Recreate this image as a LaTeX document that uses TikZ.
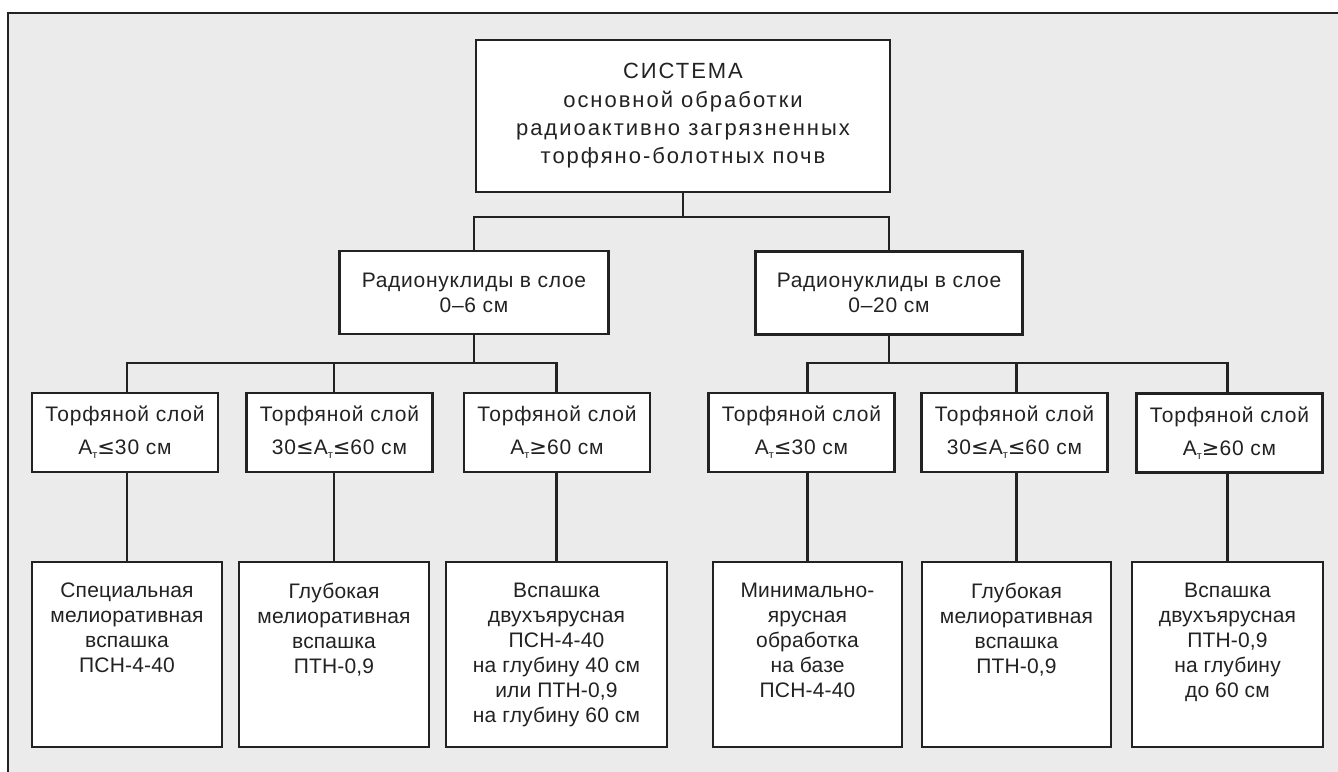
\documentclass[tikz,border=0pt]{standalone}
\usepackage{fontspec}
\setmainfont{Liberation Sans}
\newfontfamily\symfont{DejaVu Sans}
\definecolor{bg}{HTML}{EBEBEB}
\definecolor{ink}{HTML}{222222}
\newcommand{\Atsub}{А\raisebox{-0.2em}{\fontsize{11}{11}\selectfont т}}
\newcommand{\lesym}{{\symfont ≤}}
\newcommand{\gesym}{{\symfont ≥}}
\begin{document}
\begin{tikzpicture}[x=1pt,y=-1pt,
  box/.style={draw=ink, line width=2.1pt, fill=white, inner sep=0pt},
  txt/.style={text=ink, align=center, inner sep=0pt, font=\fontsize{21}{25}\selectfont\addfontfeature{LetterSpace=0.8}},
  midtxt/.style={font=\fontsize{21}{25}\selectfont\addfontfeature{LetterSpace=3.5}},
  lvl/.style={box, txt, minimum width=186pt, minimum height=79pt, font=\fontsize{21}{33}\selectfont\addfontfeature{LetterSpace=4}},
  leaf/.style={box, minimum height=185pt},
  conn/.style={draw=ink, line width=2.1pt}]
\useasboundingbox (0,0) rectangle (1338,771);
\draw[line width=2.8pt, draw=ink, fill=bg] (8,13) rectangle (1350,790);

% top
\node[box, txt, minimum width=414pt, minimum height=152pt, font=\fontsize{22}{28.3}\selectfont\addfontfeature{LetterSpace=9}] (top) at (683,116)
  {СИСТЕМА\\основной обработки\\радиоактивно загрязненных\\торфяно-болотных почв};

% middle
\node[box, txt, midtxt, minimum width=269pt, minimum height=83pt] (m1) at (474,292.5) {Радионуклиды в слое\\0–6 см};
\node[box, txt, midtxt, minimum width=267pt, minimum height=83pt] (m2) at (889,293) {Радионуклиды в слое\\0–20 см};

% level 3
\node[lvl] (b1) at (125,432.5) {Торфяной слой\\\Atsub\lesym30 см};
\node[lvl] (b2) at (339.5,432.5) {Торфяной слой\\30\lesym\Atsub\lesym60 см};
\node[lvl] (b3) at (557,432.5) {Торфяной слой\\\Atsub\gesym60 см};
\node[lvl] (b4) at (801.5,432.5) {Торфяной слой\\\Atsub\lesym30 см};
\node[lvl] (b5) at (1014.5,432.5) {Торфяной слой\\30\lesym\Atsub\lesym60 см};
\node[lvl] (b6) at (1229.5,433) {Торфяной слой\\\Atsub\gesym60 см};

% leaves
\node[leaf, minimum width=190pt] (c1) at (127,654.5) {};
\node[leaf, minimum width=190pt] (c2) at (334,654.5) {};
\node[leaf, minimum width=221pt] (c3) at (556.5,654.5) {};
\node[leaf, minimum width=189pt] (c4) at (807.5,654.5) {};
\node[leaf, minimum width=189pt] (c5) at (1016.5,654.5) {};
\node[leaf, minimum width=191pt] (c6) at (1227.5,654.5) {};

\node[txt, anchor=north] (t1) at ([yshift=-22pt]c1.north) {Специальная\\мелиоративная\\вспашка\\ПСН-4-40};
\node[txt, anchor=north] (t2) at ([yshift=-22pt]c2.north) {Глубокая\\мелиоративная\\вспашка\\ПТН-0,9};
\node[txt, anchor=north] (t3) at ([yshift=-22pt]c3.north) {Вспашка\\двухъярусная\\ПСН-4-40\\на глубину 40 см\\или ПТН-0,9\\на глубину 60 см};
\node[txt, anchor=north] (t4) at ([yshift=-22pt]c4.north) {Минимально-\\ярусная\\обработка\\на базе\\ПСН-4-40};
\node[txt, anchor=north] (t5) at ([yshift=-22pt]c5.north) {Глубокая\\мелиоративная\\вспашка\\ПТН-0,9};
\node[txt, anchor=north] (t6) at ([yshift=-22pt]c6.north) {Вспашка\\двухъярусная\\ПТН-0,9\\на глубину\\до 60 см};

% junctions
\coordinate (jt) at (top.south |- 0,217);
\coordinate (j1) at (m1.south |- 0,363);
\coordinate (j2) at (m2.south |- 0,363);

% connectors
\draw[conn] (top.south) -- (jt);
\draw[conn] (m1.north) |- (jt) -| (m2.north);
\draw[conn] (m1.south) -- (j1);
\draw[conn] (m2.south) -- (j2);
\draw[conn] (c1.north |- b1.north) |- (j1) -| (c3.north |- b3.north);
\draw[conn] (c2.north |- b2.north) -- (c2.north |- j1);
\draw[conn] (c4.north |- b4.north) |- (j2) -| (c6.north |- b6.north);
\draw[conn] (c5.north |- b5.north) -- (c5.north |- j2);
\draw[conn] (b1.south -| c1.north) -- (c1.north);
\draw[conn] (b2.south -| c2.north) -- (c2.north);
\draw[conn] (b3.south -| c3.north) -- (c3.north);
\draw[conn] (b4.south -| c4.north) -- (c4.north);
\draw[conn] (b5.south -| c5.north) -- (c5.north);
\draw[conn] (b6.south -| c6.north) -- (c6.north);
\end{tikzpicture}
\end{document}
